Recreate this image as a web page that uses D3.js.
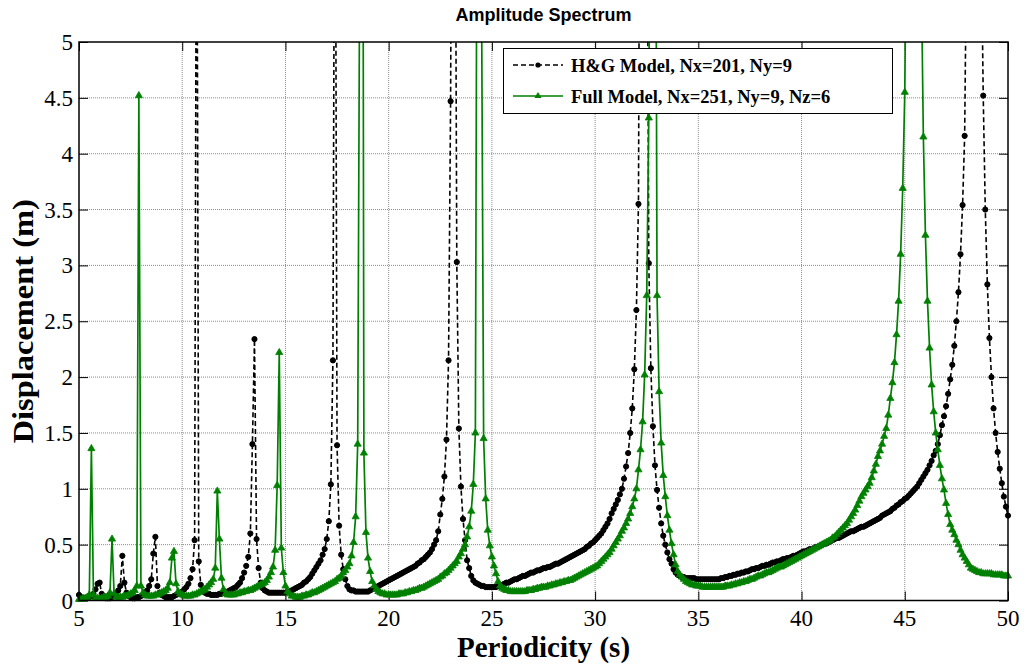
<!DOCTYPE html>
<html>
<head>
<meta charset="utf-8">
<title>Amplitude Spectrum</title>
<script src="https://cdn.jsdelivr.net/npm/d3@7"></script>
<style>
  body { margin: 0; background: #fff; }
  svg { display: block; }
</style>
</head>
<body>
<div id="chart"></div>
<script>
// Amplitude spectrum, sampled every 0.1 s of period
// values read off the original figure (peaks above 5 are clipped there)

// periods (s)
var periods = [
  5.0, 5.1, 5.2, 5.3, 5.4, 5.5, 5.6, 5.7, 5.8, 5.9,
  6.0, 6.1, 6.2, 6.3, 6.4, 6.5, 6.6, 6.7, 6.8, 6.9,
  7.0, 7.1, 7.2, 7.3, 7.4, 7.5, 7.6, 7.7, 7.8, 7.9,
  8.0, 8.1, 8.2, 8.3, 8.4, 8.5, 8.6, 8.7, 8.8, 8.9,
  9.0, 9.1, 9.2, 9.3, 9.4, 9.5, 9.6, 9.7, 9.8, 9.9,
  10.0, 10.1, 10.2, 10.3, 10.4, 10.5, 10.6, 10.7, 10.8, 10.9,
  11.0, 11.1, 11.2, 11.3, 11.4, 11.5, 11.6, 11.7, 11.8, 11.9,
  12.0, 12.1, 12.2, 12.3, 12.4, 12.5, 12.6, 12.7, 12.8, 12.9,
  13.0, 13.1, 13.2, 13.3, 13.4, 13.5, 13.6, 13.7, 13.8, 13.9,
  14.0, 14.1, 14.2, 14.3, 14.4, 14.5, 14.6, 14.7, 14.8, 14.9,
  15.0, 15.1, 15.2, 15.3, 15.4, 15.5, 15.6, 15.7, 15.8, 15.9,
  16.0, 16.1, 16.2, 16.3, 16.4, 16.5, 16.6, 16.7, 16.8, 16.9,
  17.0, 17.1, 17.2, 17.3, 17.4, 17.5, 17.6, 17.7, 17.8, 17.9,
  18.0, 18.1, 18.2, 18.3, 18.4, 18.5, 18.6, 18.7, 18.8, 18.9,
  19.0, 19.1, 19.2, 19.3, 19.4, 19.5, 19.6, 19.7, 19.8, 19.9,
  20.0, 20.1, 20.2, 20.3, 20.4, 20.5, 20.6, 20.7, 20.8, 20.9,
  21.0, 21.1, 21.2, 21.3, 21.4, 21.5, 21.6, 21.7, 21.8, 21.9,
  22.0, 22.1, 22.2, 22.3, 22.4, 22.5, 22.6, 22.7, 22.8, 22.9,
  23.0, 23.1, 23.2, 23.3, 23.4, 23.5, 23.6, 23.7, 23.8, 23.9,
  24.0, 24.1, 24.2, 24.3, 24.4, 24.5, 24.6, 24.7, 24.8, 24.9,
  25.0, 25.1, 25.2, 25.3, 25.4, 25.5, 25.6, 25.7, 25.8, 25.9,
  26.0, 26.1, 26.2, 26.3, 26.4, 26.5, 26.6, 26.7, 26.8, 26.9,
  27.0, 27.1, 27.2, 27.3, 27.4, 27.5, 27.6, 27.7, 27.8, 27.9,
  28.0, 28.1, 28.2, 28.3, 28.4, 28.5, 28.6, 28.7, 28.8, 28.9,
  29.0, 29.1, 29.2, 29.3, 29.4, 29.5, 29.6, 29.7, 29.8, 29.9,
  30.0, 30.1, 30.2, 30.3, 30.4, 30.5, 30.6, 30.7, 30.8, 30.9,
  31.0, 31.1, 31.2, 31.3, 31.4, 31.5, 31.6, 31.7, 31.8, 31.9,
  32.0, 32.1, 32.2, 32.3, 32.4, 32.5, 32.6, 32.7, 32.8, 32.9,
  33.0, 33.1, 33.2, 33.3, 33.4, 33.5, 33.6, 33.7, 33.8, 33.9,
  34.0, 34.1, 34.2, 34.3, 34.4, 34.5, 34.6, 34.7, 34.8, 34.9,
  35.0, 35.1, 35.2, 35.3, 35.4, 35.5, 35.6, 35.7, 35.8, 35.9,
  36.0, 36.1, 36.2, 36.3, 36.4, 36.5, 36.6, 36.7, 36.8, 36.9,
  37.0, 37.1, 37.2, 37.3, 37.4, 37.5, 37.6, 37.7, 37.8, 37.9,
  38.0, 38.1, 38.2, 38.3, 38.4, 38.5, 38.6, 38.7, 38.8, 38.9,
  39.0, 39.1, 39.2, 39.3, 39.4, 39.5, 39.6, 39.7, 39.8, 39.9,
  40.0, 40.1, 40.2, 40.3, 40.4, 40.5, 40.6, 40.7, 40.8, 40.9,
  41.0, 41.1, 41.2, 41.3, 41.4, 41.5, 41.6, 41.7, 41.8, 41.9,
  42.0, 42.1, 42.2, 42.3, 42.4, 42.5, 42.6, 42.7, 42.8, 42.9,
  43.0, 43.1, 43.2, 43.3, 43.4, 43.5, 43.6, 43.7, 43.8, 43.9,
  44.0, 44.1, 44.2, 44.3, 44.4, 44.5, 44.6, 44.7, 44.8, 44.9,
  45.0, 45.1, 45.2, 45.3, 45.4, 45.5, 45.6, 45.7, 45.8, 45.9,
  46.0, 46.1, 46.2, 46.3, 46.4, 46.5, 46.6, 46.7, 46.8, 46.9,
  47.0, 47.1, 47.2, 47.3, 47.4, 47.5, 47.6, 47.7, 47.8, 47.9,
  48.0, 48.1, 48.2, 48.3, 48.4, 48.5, 48.6, 48.7, 48.8, 48.9,
  49.0, 49.1, 49.2, 49.3, 49.4, 49.5, 49.6, 49.7, 49.8, 49.9,
  50.0
];

// H&G Model, Nx=201, Ny=9 : displacement (m)
var hgDisp = [
  0.05, 0.03, 0.02, 0.02, 0.02, 0.03, 0.04, 0.06, 0.10, 0.15,
  0.16, 0.06, 0.03, 0.02, 0.02, 0.02, 0.03, 0.04, 0.06, 0.09,
  0.13, 0.40, 0.16, 0.07, 0.04, 0.03, 0.02, 0.02, 0.03, 0.03,
  0.04, 0.05, 0.07, 0.09, 0.13, 0.19, 0.42, 0.57, 0.13, 0.07,
  0.05, 0.04, 0.03, 0.03, 0.03, 0.03, 0.04, 0.05, 0.06, 0.07,
  0.08, 0.10, 0.12, 0.15, 0.20, 0.28, 0.54, 7.50, 0.35, 0.14,
  0.09, 0.07, 0.06, 0.06, 0.05, 0.05, 0.05, 0.05, 0.06, 0.06,
  0.07, 0.07, 0.08, 0.09, 0.10, 0.11, 0.12, 0.14, 0.16, 0.20,
  0.25, 0.31, 0.39, 0.60, 1.40, 2.34, 0.55, 0.29, 0.16, 0.11,
  0.09, 0.08, 0.07, 0.07, 0.07, 0.07, 0.07, 0.07, 0.07, 0.07,
  0.07, 0.08, 0.08, 0.09, 0.10, 0.11, 0.12, 0.13, 0.14, 0.16,
  0.17, 0.19, 0.21, 0.24, 0.27, 0.30, 0.33, 0.36, 0.41, 0.46,
  0.55, 0.71, 1.04, 2.15, 8.00, 1.39, 0.67, 0.41, 0.28, 0.19,
  0.13, 0.10, 0.09, 0.09, 0.08, 0.08, 0.08, 0.08, 0.08, 0.08,
  0.08, 0.09, 0.10, 0.11, 0.12, 0.13, 0.14, 0.15, 0.16, 0.17,
  0.18, 0.19, 0.20, 0.21, 0.22, 0.23, 0.24, 0.25, 0.26, 0.27,
  0.28, 0.29, 0.30, 0.31, 0.33, 0.34, 0.36, 0.37, 0.39, 0.41,
  0.43, 0.46, 0.50, 0.54, 0.62, 0.77, 0.91, 1.11, 1.44, 2.15,
  4.47, 9.00, 8.00, 3.03, 1.54, 1.02, 0.73, 0.54, 0.36, 0.29,
  0.22, 0.18, 0.16, 0.15, 0.14, 0.13, 0.13, 0.12, 0.12, 0.12,
  0.12, 0.12, 0.12, 0.13, 0.13, 0.14, 0.15, 0.16, 0.16, 0.17,
  0.18, 0.19, 0.19, 0.20, 0.21, 0.22, 0.22, 0.23, 0.24, 0.25,
  0.25, 0.26, 0.27, 0.27, 0.28, 0.29, 0.29, 0.30, 0.30, 0.31,
  0.32, 0.33, 0.33, 0.34, 0.35, 0.36, 0.37, 0.38, 0.39, 0.40,
  0.41, 0.42, 0.43, 0.44, 0.45, 0.46, 0.48, 0.49, 0.51, 0.52,
  0.54, 0.56, 0.58, 0.60, 0.63, 0.66, 0.69, 0.73, 0.78, 0.82,
  0.86, 0.90, 0.95, 1.00, 1.09, 1.20, 1.32, 1.50, 1.72, 2.07,
  2.60, 3.55, 9.00, 14.0, 12.0, 7.50, 3.02, 2.08, 1.56, 1.21,
  0.99, 0.83, 0.69, 0.58, 0.50, 0.43, 0.37, 0.33, 0.28, 0.25,
  0.23, 0.22, 0.21, 0.21, 0.20, 0.20, 0.20, 0.20, 0.20, 0.19,
  0.19, 0.19, 0.19, 0.19, 0.19, 0.19, 0.19, 0.19, 0.19, 0.19,
  0.19, 0.20, 0.20, 0.21, 0.21, 0.22, 0.22, 0.23, 0.23, 0.24,
  0.24, 0.25, 0.25, 0.26, 0.26, 0.27, 0.28, 0.28, 0.29, 0.29,
  0.30, 0.31, 0.31, 0.32, 0.32, 0.33, 0.34, 0.34, 0.35, 0.35,
  0.36, 0.37, 0.37, 0.38, 0.38, 0.39, 0.40, 0.40, 0.41, 0.42,
  0.43, 0.44, 0.44, 0.45, 0.46, 0.46, 0.47, 0.48, 0.48, 0.49,
  0.50, 0.51, 0.51, 0.52, 0.53, 0.54, 0.55, 0.56, 0.56, 0.57,
  0.58, 0.59, 0.60, 0.61, 0.62, 0.62, 0.63, 0.64, 0.65, 0.66,
  0.66, 0.67, 0.68, 0.69, 0.70, 0.71, 0.72, 0.73, 0.74, 0.76,
  0.77, 0.78, 0.79, 0.80, 0.82, 0.83, 0.85, 0.86, 0.88, 0.89,
  0.91, 0.92, 0.94, 0.96, 0.98, 1.00, 1.02, 1.05, 1.08, 1.11,
  1.14, 1.17, 1.21, 1.25, 1.30, 1.34, 1.40, 1.48, 1.57, 1.65,
  1.74, 1.85, 1.98, 2.11, 2.28, 2.50, 2.76, 3.10, 3.54, 4.16,
  6.00, 9.00, 12.0, 15.0, 15.0, 12.0, 9.00, 6.00, 4.52, 3.50,
  2.83, 2.35, 2.00, 1.72, 1.50, 1.33, 1.18, 1.05, 0.93, 0.84,
  0.76
];

// Full Model, Nx=251, Ny=9, Nz=6 : displacement (m)
var fullDisp = [
  0.01, 0.01, 0.02, 0.02, 0.03, 0.05, 1.36, 0.05, 0.02, 0.02,
  0.02, 0.02, 0.03, 0.03, 0.04, 0.07, 0.55, 0.06, 0.03, 0.03,
  0.03, 0.03, 0.04, 0.04, 0.05, 0.06, 0.07, 0.09, 0.13, 4.52,
  0.13, 0.07, 0.05, 0.04, 0.04, 0.04, 0.04, 0.05, 0.05, 0.06,
  0.07, 0.08, 0.09, 0.11, 0.16, 0.38, 0.44, 0.15, 0.08, 0.06,
  0.05, 0.04, 0.04, 0.04, 0.04, 0.05, 0.05, 0.06, 0.07, 0.08,
  0.09, 0.10, 0.12, 0.14, 0.16, 0.19, 0.29, 0.98, 0.55, 0.20,
  0.10, 0.06, 0.05, 0.05, 0.05, 0.05, 0.06, 0.06, 0.07, 0.07,
  0.08, 0.08, 0.09, 0.09, 0.10, 0.11, 0.12, 0.13, 0.14, 0.15,
  0.16, 0.18, 0.21, 0.25, 0.30, 0.45, 1.03, 2.22, 0.47, 0.25,
  0.13, 0.08, 0.06, 0.04, 0.04, 0.03, 0.03, 0.03, 0.04, 0.04,
  0.05, 0.05, 0.06, 0.07, 0.07, 0.08, 0.09, 0.10, 0.11, 0.12,
  0.13, 0.14, 0.15, 0.16, 0.17, 0.19, 0.20, 0.22, 0.25, 0.27,
  0.30, 0.33, 0.40, 0.52, 0.75, 1.40, 5.90, 13.0, 1.32, 0.61,
  0.38, 0.26, 0.17, 0.13, 0.10, 0.08, 0.07, 0.06, 0.06, 0.05,
  0.05, 0.05, 0.05, 0.05, 0.05, 0.06, 0.06, 0.06, 0.07, 0.07,
  0.08, 0.08, 0.09, 0.09, 0.10, 0.11, 0.11, 0.12, 0.13, 0.14,
  0.15, 0.16, 0.17, 0.18, 0.19, 0.21, 0.22, 0.24, 0.25, 0.27,
  0.29, 0.31, 0.33, 0.35, 0.39, 0.42, 0.46, 0.50, 0.57, 0.66,
  0.80, 1.04, 1.50, 8.00, 15.0, 5.40, 1.45, 0.91, 0.63, 0.49,
  0.39, 0.31, 0.24, 0.17, 0.13, 0.11, 0.10, 0.09, 0.09, 0.08,
  0.08, 0.08, 0.08, 0.08, 0.08, 0.08, 0.08, 0.09, 0.09, 0.09,
  0.10, 0.10, 0.11, 0.11, 0.12, 0.12, 0.12, 0.13, 0.13, 0.14,
  0.14, 0.15, 0.15, 0.16, 0.16, 0.17, 0.17, 0.18, 0.18, 0.19,
  0.20, 0.21, 0.22, 0.23, 0.24, 0.25, 0.26, 0.27, 0.28, 0.29,
  0.30, 0.31, 0.33, 0.35, 0.37, 0.39, 0.41, 0.43, 0.46, 0.49,
  0.52, 0.55, 0.58, 0.62, 0.65, 0.69, 0.73, 0.78, 0.84, 0.91,
  1.00, 1.17, 1.35, 1.60, 2.02, 2.73, 4.32, 8.00, 15.0, 9.00,
  2.73, 1.87, 1.41, 1.12, 0.93, 0.76, 0.63, 0.51, 0.41, 0.32,
  0.26, 0.23, 0.21, 0.19, 0.17, 0.16, 0.15, 0.14, 0.14, 0.13,
  0.13, 0.13, 0.12, 0.12, 0.12, 0.12, 0.12, 0.12, 0.12, 0.12,
  0.12, 0.12, 0.12, 0.13, 0.13, 0.13, 0.14, 0.14, 0.15, 0.15,
  0.16, 0.16, 0.17, 0.17, 0.18, 0.19, 0.19, 0.20, 0.21, 0.22,
  0.22, 0.23, 0.24, 0.25, 0.25, 0.26, 0.27, 0.28, 0.29, 0.30,
  0.30, 0.31, 0.32, 0.33, 0.34, 0.35, 0.36, 0.37, 0.38, 0.39,
  0.40, 0.41, 0.42, 0.43, 0.44, 0.45, 0.46, 0.47, 0.48, 0.49,
  0.50, 0.51, 0.52, 0.53, 0.54, 0.56, 0.57, 0.59, 0.61, 0.63,
  0.65, 0.67, 0.69, 0.72, 0.75, 0.78, 0.81, 0.85, 0.89, 0.93,
  0.96, 0.99, 1.02, 1.05, 1.10, 1.16, 1.22, 1.29, 1.34, 1.40,
  1.47, 1.54, 1.66, 1.81, 1.95, 2.13, 2.38, 2.68, 3.10, 3.69,
  4.55, 6.50, 9.00, 13.0, 16.0, 14.0, 10.0, 7.50, 5.60, 4.15,
  3.27, 2.68, 2.26, 1.93, 1.69, 1.50, 1.35, 1.21, 1.09, 0.99,
  0.87, 0.77, 0.68, 0.63, 0.59, 0.54, 0.50, 0.45, 0.41, 0.38,
  0.35, 0.32, 0.29, 0.28, 0.27, 0.26, 0.25, 0.25, 0.24, 0.24,
  0.24, 0.24, 0.24, 0.23, 0.23, 0.23, 0.23, 0.23, 0.22, 0.22,
  0.22
];

// axis ticks
var xTicks = [5, 10, 15, 20, 25, 30, 35, 40, 45, 50];
var yTicks = [0, 0.5, 1, 1.5, 2, 2.5, 3, 3.5, 4, 4.5, 5];

// legend labels
var seriesNames = ['H&G Model, Nx=201, Ny=9', 'Full Model, Nx=251, Ny=9, Nz=6'];

(function() {
  var width = 1027;
  var height = 665;

  // plot box (axes position in the figure)
  var box = { left: 79, top: 42, right: 1008, bottom: 600.5 };

  var serif = '"Liberation Serif", "Times New Roman", Times, serif';
  var green = '#008000';

  var x = d3.scaleLinear().domain([5, 50]).range([box.left, box.right]);
  var y = d3.scaleLinear().domain([0, 5]).range([box.bottom, box.top]);

  var svg = d3.select('#chart').append('svg')
    .attr('width', width)
    .attr('height', height)
    .style('background', '#fff');

  // clip so the resonance peaks stop at the top of the axes
  svg.append('defs').append('clipPath').attr('id', 'plotClip')
    .append('rect')
    .attr('x', box.left).attr('y', box.top)
    .attr('width', box.right - box.left).attr('height', box.bottom - box.top);

  // grid
  var grid = svg.append('g').attr('class', 'grid');
  grid.selectAll('.vgrid').data(xTicks.slice(1, -1)).enter()
    .append('line')
    .attr('x1', function(d) { return x(d); })
    .attr('x2', function(d) { return x(d); })
    .attr('y1', box.top).attr('y2', box.bottom)
    .attr('stroke', '#8c8c8c').attr('stroke-width', 1)
    .attr('stroke-dasharray', '1,1');
  grid.selectAll('.hgrid').data(yTicks.slice(1, -1)).enter()
    .append('line')
    .attr('y1', function(d) { return y(d); })
    .attr('y2', function(d) { return y(d); })
    .attr('x1', box.left).attr('x2', box.right)
    .attr('stroke', '#8c8c8c').attr('stroke-width', 1)
    .attr('stroke-dasharray', '1,1');

  // tick marks on all four sides, pointing inside like MATLAB
  var tickLen = 9;
  var axes = [
    svg.append('g').attr('transform', 'translate(0,' + box.bottom + ')')
      .call(d3.axisBottom(x).tickValues(xTicks).tickFormat('').tickSize(-tickLen)),
    svg.append('g').attr('transform', 'translate(' + box.left + ',0)')
      .call(d3.axisLeft(y).tickValues(yTicks).tickFormat('').tickSize(-tickLen)),
    svg.append('g').attr('transform', 'translate(0,' + box.top + ')')
      .call(d3.axisTop(x).tickValues(xTicks).tickFormat('').tickSize(-tickLen)),
    svg.append('g').attr('transform', 'translate(' + box.right + ',0)')
      .call(d3.axisRight(y).tickValues(yTicks).tickFormat('').tickSize(-tickLen))
  ];
  axes.forEach(function(a) {
    a.select('.domain').remove();
    a.selectAll('.tick line').attr('stroke', '#000');
    a.selectAll('.tick text').remove();
  });

  // tick labels (Times)
  svg.append('g').selectAll('text').data(xTicks).enter()
    .append('text')
    .attr('x', function(d) { return x(d); })
    .attr('y', 625.5)
    .attr('text-anchor', 'middle')
    .attr('fill', '#000')
    .style('font-family', serif)
    .style('font-size', '23px')
    .text(function(d) { return String(d); });

  svg.append('g').selectAll('text').data(yTicks).enter()
    .append('text')
    .attr('x', box.left - 6)
    .attr('y', function(d) { return y(d) + 8; })
    .attr('text-anchor', 'end')
    .attr('fill', '#000')
    .style('font-family', serif)
    .style('font-size', '23px')
    .text(function(d) { return String(d); });

  // series
  var hgPoints = periods.map(function(p, i) { return { p: p, v: hgDisp[i] }; });
  var fullPoints = periods.map(function(p, i) { return { p: p, v: fullDisp[i] }; });

  var line = d3.line()
    .x(function(d) { return x(d.p); })
    .y(function(d) { return y(d.v); });

  var plotLayer = svg.append('g');

  // H&G : black dashed with circles
  plotLayer.append('path')
    .datum(hgPoints)
    .attr('clip-path', 'url(#plotClip)')
    .attr('d', line)
    .attr('fill', 'none')
    .attr('stroke', '#000')
    .attr('stroke-width', 1.6)
    .attr('stroke-dasharray', '5,3');

  plotLayer.selectAll('.hgMarker')
    .data(hgPoints.filter(function(d) { return d.v <= 5; }))
    .enter()
    .append('circle')
    .attr('class', 'hgMarker')
    .attr('cx', function(d) { return x(d.p); })
    .attr('cy', function(d) { return y(d.v); })
    .attr('r', 2.6)
    .attr('fill', '#000')
    .attr('stroke', '#000')
    .attr('stroke-width', 1);

  // Full model : green solid with triangles
  plotLayer.append('path')
    .datum(fullPoints)
    .attr('clip-path', 'url(#plotClip)')
    .attr('d', line)
    .attr('fill', 'none')
    .attr('stroke', green)
    .attr('stroke-width', 1.7);

  var tri = d3.symbol().type(d3.symbolTriangle).size(22);
  plotLayer.selectAll('.fullMarker')
    .data(fullPoints.filter(function(d) { return d.v <= 5; }))
    .enter()
    .append('path')
    .attr('class', 'fullMarker')
    .attr('d', tri)
    .attr('transform', function(d) { return 'translate(' + x(d.p) + ',' + y(d.v) + ')'; })
    .attr('fill', green)
    .attr('stroke', green)
    .attr('stroke-width', 0.8);

  // axes frame
  svg.append('rect')
    .attr('x', box.left).attr('y', box.top)
    .attr('width', box.right - box.left).attr('height', box.bottom - box.top)
    .attr('fill', 'none')
    .attr('stroke', '#000')
    .attr('stroke-width', 1.5);

  // legend
  var legend = svg.append('g').attr('class', 'legend');
  legend.append('rect')
    .attr('x', 503.5).attr('y', 48.5)
    .attr('width', 389).attr('height', 65)
    .attr('fill', '#fff')
    .attr('stroke', '#000')
    .attr('stroke-width', 1);

  var rows = [
    { name: seriesNames[0], y: 65, color: '#000', dash: '5,3', marker: 'circle' },
    { name: seriesNames[1], y: 96, color: green, dash: null, marker: 'triangle' }
  ];
  rows.forEach(function(r) {
    legend.append('line')
      .attr('x1', 513).attr('x2', 563)
      .attr('y1', r.y).attr('y2', r.y)
      .attr('stroke', r.color)
      .attr('stroke-width', 1.7)
      .attr('stroke-dasharray', r.dash);
    if (r.marker === 'circle') {
      legend.append('circle')
        .attr('cx', 538).attr('cy', r.y).attr('r', 2.6)
        .attr('fill', '#000');
    } else {
      legend.append('path')
        .attr('d', tri)
        .attr('transform', 'translate(538,' + r.y + ')')
        .attr('fill', green);
    }
    legend.append('text')
      .attr('x', 571).attr('y', r.y + 7)
      .style('font-family', serif)
      .style('font-weight', 'bold')
      .style('font-size', '18.5px')
      .text(r.name);
  });

  // title and labels
  svg.append('text')
    .attr('x', (box.left + box.right) / 2).attr('y', 21)
    .attr('text-anchor', 'middle')
    .style('font-family', '"Liberation Sans", Arial, sans-serif')
    .style('font-weight', 'bold')
    .style('font-size', '18px')
    .text('Amplitude Spectrum');

  svg.append('text')
    .attr('x', (box.left + box.right) / 2).attr('y', 657)
    .attr('text-anchor', 'middle')
    .style('font-family', serif)
    .style('font-weight', 'bold')
    .style('font-size', '29px')
    .text('Periodicity (s)');

  // the original figure is a little stretched vertically, so is this label
  svg.append('text')
    .attr('transform', 'translate(33,' + (box.top + box.bottom) / 2 + ') rotate(-90) scale(1.12,1)')
    .attr('text-anchor', 'middle')
    .style('font-family', serif)
    .style('font-weight', 'bold')
    .style('font-size', '29px')
    .text('Displacement (m)');
})();
</script>
</body>
</html>
